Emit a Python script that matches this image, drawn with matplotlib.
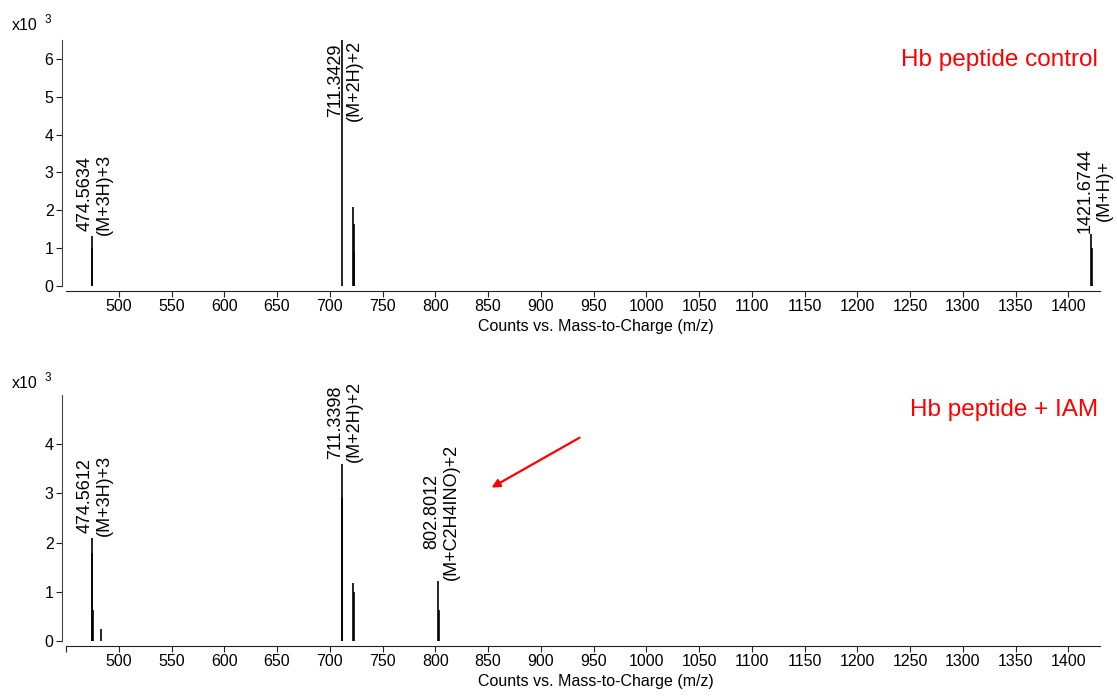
"""
Two stacked mass spectra: Hb peptide control vs Hb peptide + IAM.
Counts are in thousands (x10^3).
"""
import numpy as np
import matplotlib
matplotlib.use('Agg')
import matplotlib.pyplot as plt

plt.rcParams['font.family'] = ['Liberation Sans', 'DejaVu Sans']

# control spectrum (m/z, counts x10^3)
ctrl_mz = [474.5634, 474.90, 711.3429, 722.33, 722.83, 723.33, 1421.6744, 1422.68]
ctrl_int = [1.33, 1.0, 6.6, 2.08, 1.65, 0.9, 1.37, 1.0]

# + IAM spectrum
iam_mz = [474.5612, 474.90, 475.23, 483.3, 711.3398, 711.84, 722.33, 722.83, 802.8012, 803.30]
iam_int = [2.1, 1.78, 0.63, 0.25, 3.6, 2.9, 1.17, 1.0, 1.21, 0.63]

# labelled peaks: (m/z, height, text)
ctrl_labels = [(474.5634, 1.33, '474.5634\n(M+3H)+3'),
               (711.3429, 6.6, '711.3429\n(M+2H)+2'),
               (1421.6744, 1.37, '1421.6744\n(M+H)+')]
iam_labels = [(474.5612, 2.1, '474.5612\n(M+3H)+3'),
              (711.3398, 3.6, '711.3398\n(M+2H)+2'),
              (802.8012, 1.21, '802.8012\n(M+C2H4INO)+2')]

xticks = list(range(500, 1401, 50))


def style_axis(ax, ymax, yticks, extra_tick=False):
    ax.set_xlim(450, 1430)
    ax.set_ylim(0, ymax)
    for s in ['top', 'right']:
        ax.spines[s].set_visible(False)
    ax.spines['left'].set_position(('outward', 3))
    ax.spines['bottom'].set_position(('outward', 3.6))
    ax.spines['left'].set_color('#444444')
    ax.spines['bottom'].set_color('#222222')
    ticks = ([450] if extra_tick else []) + xticks
    ax.set_xticks(ticks)
    ax.set_xticklabels([('' if t == 450 else str(t)) for t in ticks])
    ax.set_yticks(yticks)
    ax.tick_params(axis='both', direction='out', length=4, width=0.8,
                   labelsize=11.5, colors='#222222', labelcolor='black', pad=2)
    ax.set_xlabel('Counts vs. Mass-to-Charge (m/z)', fontsize=11.5, labelpad=1)
    ax.xaxis.set_label_coords(0.5126, -0.135)


def draw_peaks(ax, mz, inten, labels, ymax):
    ax.vlines(mz, 0, inten, color='black', lw=1.2)
    for x, h, txt in labels:
        if h >= ymax:
            ax.text(x + 3, ymax, txt, rotation=90, ha='center', va='top',
                    fontsize=13, linespacing=1.15, clip_on=False)
        else:
            ax.text(x + 3, h + 0.03, txt, rotation=90, ha='center', va='bottom',
                    fontsize=13, linespacing=1.15, clip_on=False)


fig = plt.figure(figsize=(11.17, 6.98), dpi=100)
ax1 = fig.add_axes([0.0591, 0.5903, 0.9257, 0.3524])
ax2 = fig.add_axes([0.0591, 0.0817, 0.9257, 0.3524])

style_axis(ax1, 6.5, range(0, 7))
draw_peaks(ax1, ctrl_mz, ctrl_int, ctrl_labels, 6.5)
ax1.text(0.998, 0.92, 'Hb peptide control', transform=ax1.transAxes,
         ha='right', va='center', color='#ff0000', fontsize=17.5)

style_axis(ax2, 5.0, range(0, 5), extra_tick=True)
draw_peaks(ax2, iam_mz, iam_int, iam_labels, 5.0)
ax2.text(0.998, 0.937, 'Hb peptide + IAM', transform=ax2.transAxes,
         ha='right', va='center', color='#ff0000', fontsize=17.5)
ax2.annotate('', xy=(851, 3.09), xytext=(939, 4.16),
             arrowprops=dict(arrowstyle='-|>', color='#ff0000', lw=1.6,
                             mutation_scale=12))

# x10^3 multipliers
for yb in (0.964, 0.450):
    fig.text(0.011, yb, 'x10', fontsize=11.5, va='center', ha='left')
    fig.text(0.040, yb + 0.008, '3', fontsize=8.5, va='center', ha='left')

fig.savefig('out.png', dpi=100)
